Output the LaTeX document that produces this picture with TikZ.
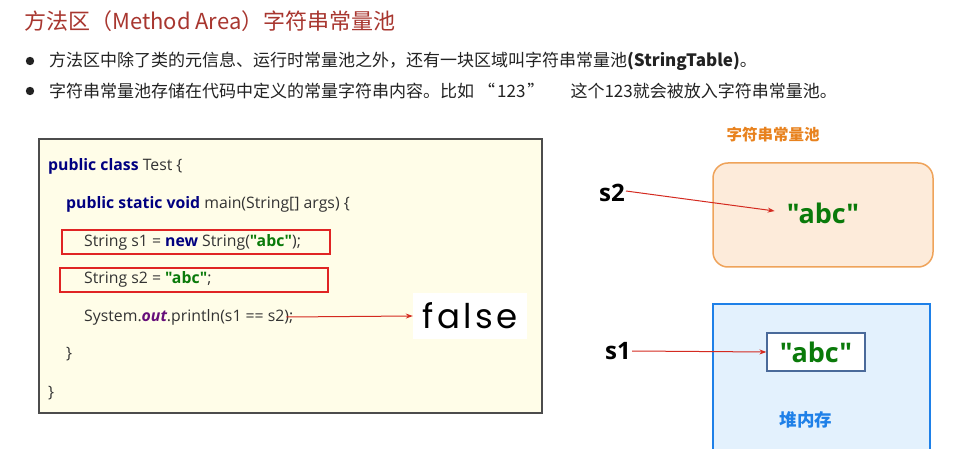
\documentclass[tikz,border=0pt]{standalone}
\usepackage{fontspec}
\setmainfont{Noto Sans CJK SC}
\newfontfamily\codefont{Open Sans}
\newfontfamily\gothicfont[LetterSpace=10]{Poppins}
\usetikzlibrary{arrows.meta}

\definecolor{titlered}{HTML}{A8362F}
\definecolor{textgray}{HTML}{222222}
\definecolor{codegray}{HTML}{333333}
\definecolor{codefill}{HTML}{FFFDE8}
\definecolor{kwblue}{HTML}{000080}
\definecolor{strgreen}{HTML}{0A7A0A}
\definecolor{outpurple}{HTML}{660E7A}
\definecolor{boxred}{HTML}{E02424}
\definecolor{arrowred}{HTML}{D42A20}
\definecolor{poolfill}{HTML}{FDEBDA}
\definecolor{poolorange}{HTML}{EFA35A}
\definecolor{poollabel}{HTML}{E8821E}
\definecolor{heapfill}{HTML}{E3F1FD}
\definecolor{heapblue}{HTML}{1E80E8}
\definecolor{innerblue}{HTML}{4A6A9A}

\newcommand\kw[1]{\textbf{\color{kwblue}#1}}
\newcommand\javastr[1]{\textbf{\color{strgreen}#1}}

\tikzset{
  codeline/.style={anchor=west, inner sep=0pt, text=codegray, font=\codefont\fontsize{15.8}{18}\selectfont},
  bulletline/.style={anchor=west, inner sep=0pt, text=textgray, font=\fontsize{17}{20}\selectfont},
  redbox/.style={draw=boxred, line width=1.6pt},
  redarrow/.style={-{Stealth[length=7pt,width=5pt]}, draw=arrowred, line width=1pt},
  varname/.style={font=\codefont\fontsize{24}{26}\selectfont\bfseries, inner sep=1pt},
  abctext/.style={text=strgreen, font=\codefont\fontsize{27}{30}\selectfont\bfseries}
}

\begin{document}
\begin{tikzpicture}[x=1pt,y=-1pt]
\useasboundingbox[fill=white] (0,0) rectangle (959,449);
\clip (0,0) rectangle (959,449);

% title and bullets
\node[anchor=west, inner sep=0pt, text=titlered, font=\fontsize{22}{26}\selectfont] (title) at (24,21) {方法区（Method Area）字符串常量池};
\fill[textgray] (30,61) circle (4.2);
\fill[textgray] (30,91) circle (4.2);
\node[bulletline] (bullet1) at (49,61) {方法区中除了类的元信息、运行时常量池之外，还有一块区域叫字符串常量池\textbf{(StringTable)}。};
\node[bulletline] (bullet2) at (49,91) {字符串常量池存储在代码中定义的常量字符串内容。比如\hspace{4pt}“\hspace{2pt}123\hspace{2pt}”\hspace{26pt}这个123就会被放入字符串常量池。};

% code box
\draw[fill=codefill, draw=black!70, line width=1.2pt] (39,139) rectangle (542,413);
\draw[redbox] (62,230) rectangle (330,254);
\draw[redbox] (60,268) rectangle (328,292);

\node[codeline] (cls) at (48,166) {\kw{public class} Test \{};
\node[codeline] (main) at (66,204) {\kw{public static void} main(String[] args) \{};
\node[codeline] (lineone) at (84,242) {String s1 = \kw{new} String(\javastr{"abc"});};
\node[codeline] (linetwo) at (84,279) {String s2 = \javastr{"abc"};};
\node[codeline] (print) at (84,317) {System.\textbf{\textit{\color{outpurple}out}}.println(s1 == s2);};
\node[codeline] (endmain) at (66,354) {\}};
\node[codeline] (endcls) at (48,393) {\}};

\node[fill=white, minimum width=114, minimum height=45, inner sep=0pt, font=\gothicfont\fontsize{34}{36}\selectfont] (false) at (470,316) {false};
\draw[redarrow] ([xshift=-7pt]print.east) -- (false.west);

% string pool
\node[text=poollabel, font=\fontsize{15.5}{18}\selectfont\bfseries] (poollabel) at (773,135) {字符串常量池};
\draw[rounded corners=15pt, fill=poolfill, draw=poolorange, line width=1.5pt] (713,163) rectangle (933,267);
\node[abctext, inner sep=0pt] (poolabc) at (823,213) {"abc"};
\node[varname] (s2) at (612,193) {s2};
\draw[redarrow] ([yshift=2pt]s2.east) -- ([xshift=-12pt,yshift=2pt]poolabc.west);

% heap
\draw[fill=heapfill, draw=heapblue, line width=2.5pt] (713,304) rectangle (930,470);
\node[abctext, draw=innerblue, fill=white, line width=1.2pt, minimum width=98, minimum height=38, inner sep=0pt] (heapabc) at (816,352) {"abc"};
\node[varname] (s1) at (618,351) {s1};
\draw[redarrow] (s1.east) -- (heapabc.west);
\node[text=heapblue, font=\fontsize{17.5}{20}\selectfont\bfseries] (heaplabel) at (806,420) {堆内存};
\end{tikzpicture}
\end{document}
